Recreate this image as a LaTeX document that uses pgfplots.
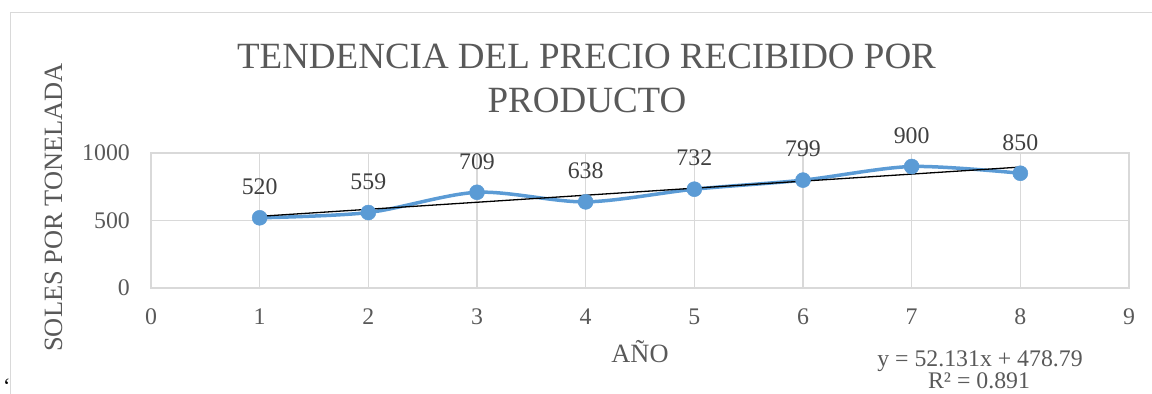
\documentclass[border=0pt]{standalone}
\usepackage{pgfplots}
\pgfplotsset{compat=1.18}
\usepackage{fontspec}
\setmainfont{Liberation Serif}
\definecolor{gridgray}{HTML}{D9D9D9}
\definecolor{txtgray}{HTML}{595959}
\definecolor{lblgray}{HTML}{404040}
\definecolor{serblue}{HTML}{5B9BD5}
\newcommand{\tickfont}{\fontsize{23.8bp}{28bp}\selectfont}
\newcommand{\axfont}{\fontsize{26.4bp}{31bp}\selectfont}
\newcommand{\titfont}{\fontsize{37bp}{44bp}\selectfont}
\begin{document}
\begin{tikzpicture}
\path[use as bounding box] (0,0) rectangle (1152bp,-394bp);
\draw[gridgray, line width=1bp] (10bp,-394bp) -- (10bp,-12bp) -- (1152bp,-12bp);
\begin{axis}[
  scale only axis,
  width=978bp, height=135bp,
  at={(151bp,-288bp)}, anchor=south west,
  xmin=0, xmax=9, ymin=0, ymax=1000,
  xtick={0,1,...,9}, ytick={0,500,1000},
  major tick length=0pt,
  grid=major,
  grid style={draw=gridgray, line width=1.5bp},
  axis line style={draw=gridgray, line width=1.5bp},
  tick label style={font=\tickfont, text=txtgray, inner sep=0pt},
  xticklabel style={anchor=base, yshift=-36bp},
  yticklabel style={anchor=east, xshift=-21bp},
  /pgf/number format/assume math mode=true,
  /pgf/number format/.cd, 1000 sep={}, fixed, precision=0,
]
\addplot[serblue, line width=3.5bp, smooth, tension=0.5,
  mark=*, mark size=7.5bp, mark options={fill=serblue, draw=serblue, line width=0.5bp},
  nodes near coords,
  every node near coord/.style={anchor=center, yshift=31bp, font=\tickfont, text=lblgray, inner sep=0pt},
  ] coordinates {
  (1,520) (2,559) (3,709) (4,638) (5,732) (6,799) (7,900) (8,850)
};
\addplot[black, line width=1.3bp, no marks] coordinates {(1,530.92) (8,895.84)};
\end{axis}
\node[anchor=base, text=txtgray, font=\titfont, inner sep=0pt] at (586.5bp,-68bp) {TENDENCIA DEL PRECIO RECIBIDO POR};
\node[anchor=base, text=txtgray, font=\titfont, inner sep=0pt] at (587bp,-112bp) {PRODUCTO};
\node[anchor=base, text=txtgray, font=\axfont, inner sep=0pt] at (640bp,-362bp) {AÑO};
\node[anchor=base, rotate=90, text=txtgray, font=\axfont, inner sep=0pt] at (62bp,-207.5bp) {SOLES POR TONELADA};
\node[anchor=base, text=txtgray, font=\tickfont, inner sep=0pt] at (980bp,-366bp) {y = 52.131x + 478.79};
\node[anchor=base, text=txtgray, font=\tickfont, inner sep=0pt] at (979bp,-388bp) {R² = 0.891};
\node[anchor=base west, text=black, font=\fontsize{22bp}{26bp}\selectfont, inner sep=0pt] at (3bp,-393bp) {‘};
\end{tikzpicture}
\end{document}
